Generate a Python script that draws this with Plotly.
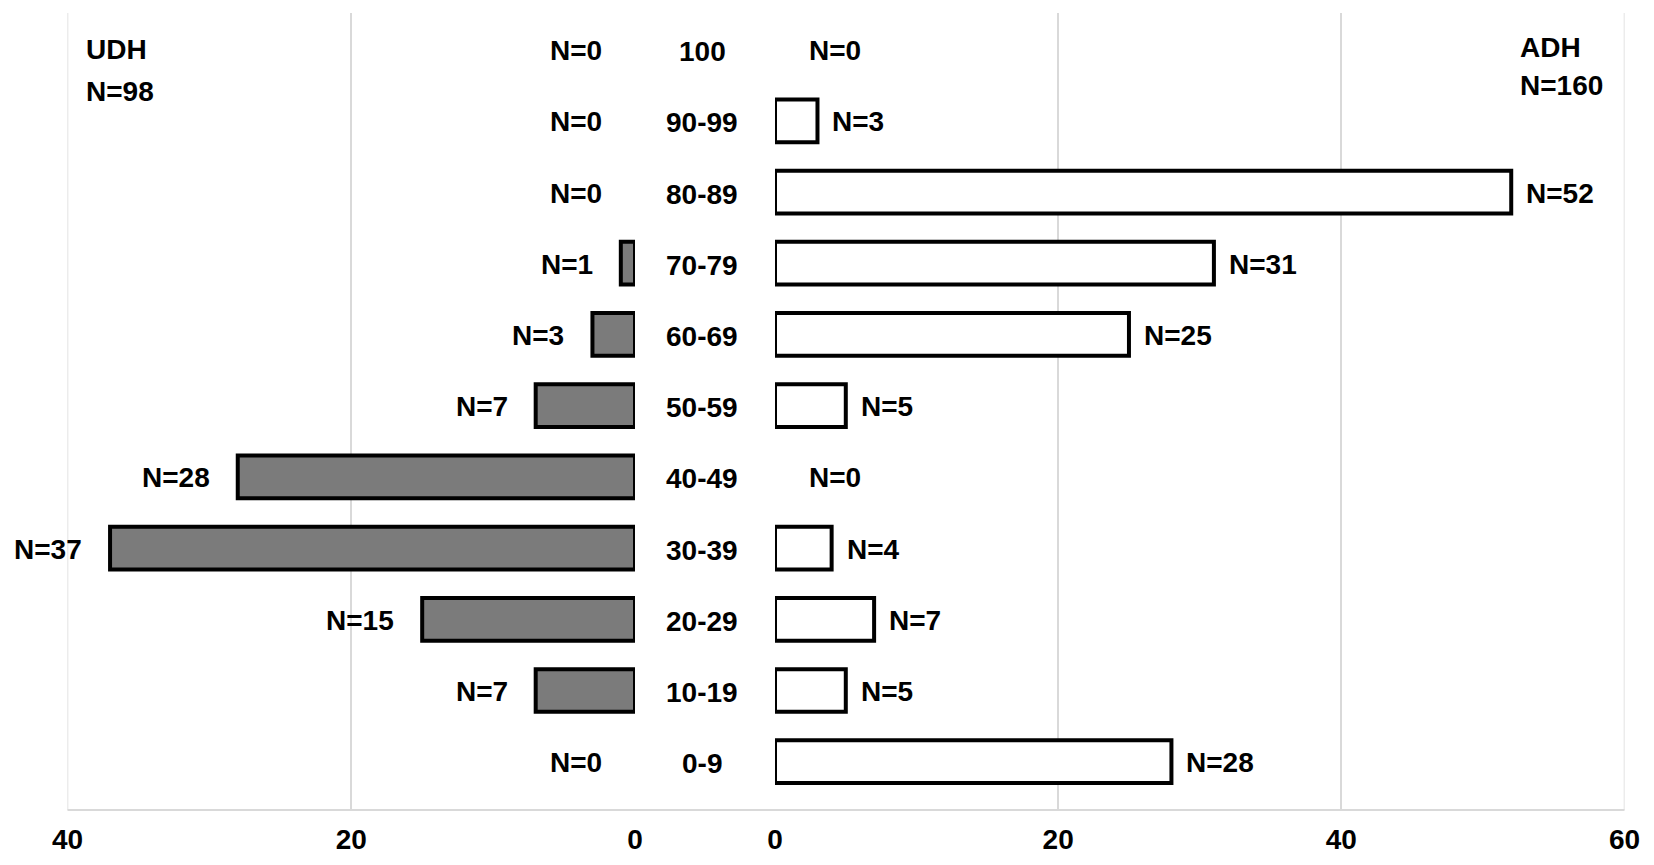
import plotly.graph_objects as go

categories = ["100", "90-99", "80-89", "70-79", "60-69", "50-59",
              "40-49", "30-39", "20-29", "10-19", "0-9"]
udh_counts = [0, 0, 0, 1, 3, 7, 28, 37, 15, 7, 0]
adh_counts = [0, 3, 52, 31, 25, 5, 0, 4, 7, 5, 28]
udh_title = ["UDH", "N=98"]
adh_title = ["ADH", "N=160"]
tick_vals_left = [0, 20, 40]
tick_vals_right = [0, 20, 40, 60]

W, H = 1654, 865
FONT = "Liberation Sans, Arial, sans-serif"
FS = 28
TFONT = dict(family=FONT, size=FS, color="black", weight="bold")

fig = go.Figure()

fig.add_trace(go.Bar(
    y=categories, x=udh_counts, orientation="h", xaxis="x", yaxis="y",
    width=0.6,
    marker=dict(color="#7b7b7b",
                line=dict(color="black", width=[4 if v > 0 else 0 for v in udh_counts])),
    showlegend=False, hoverinfo="skip",
))
fig.add_trace(go.Bar(
    y=categories, x=adh_counts, orientation="h", xaxis="x2", yaxis="y",
    width=0.6,
    marker=dict(color="white",
                line=dict(color="black", width=[4 if v > 0 else 0 for v in adh_counts])),
    showlegend=False, hoverinfo="skip",
))

annotations = []
for i, v in enumerate(udh_counts):
    annotations.append(dict(
        x=v, y=i, xref="x", yref="y", text=f"N={v}", showarrow=False,
        xanchor="right", yanchor="middle", xshift=-(31 if v == 0 else 26), yshift=-1,
        font=TFONT))
for i, v in enumerate(adh_counts):
    annotations.append(dict(
        x=v, y=i, xref="x2", yref="y", text=f"N={v}", showarrow=False,
        xanchor="left", yanchor="middle", xshift=(32 if v == 0 else 13), yshift=-1,
        font=TFONT))
for i, c in enumerate(categories):
    annotations.append(dict(
        x=702 / W, y=i, xref="paper", yref="y", text=c, showarrow=False,
        xanchor="center", yanchor="middle", yshift=-2,
        font=TFONT))
for txt, ypx in zip(udh_title, [50, 91]):
    annotations.append(dict(
        x=84 / W, y=1 - ypx / H, xref="paper", yref="paper", text=txt,
        showarrow=False, xanchor="left", yanchor="middle", align="left",
        font=TFONT))
for txt, ypx in zip(adh_title, [48, 85]):
    annotations.append(dict(
        x=1518 / W, y=1 - ypx / H, xref="paper", yref="paper", text=txt,
        showarrow=False, xanchor="left", yanchor="middle", align="left",
        font=TFONT))

y0 = 1 - 810 / H
y1 = 1 - 13 / H

axis_common = dict(
    showgrid=True, gridcolor="#d9d9d9", gridwidth=1.5,
    zeroline=False, showline=False, ticks="", automargin=False,
    ticklabelstandoff=10,
    tickfont=TFONT,
    fixedrange=True,
)

grid_edge = dict(color="#d9d9d9", width=1.5)
fig.update_layout(
    width=W, height=H,
    margin=dict(l=0, r=0, t=0, b=0),
    paper_bgcolor="white", plot_bgcolor="white",
    xaxis=dict(domain=[67.5 / W, 635 / W], range=[40, 0],
               tickvals=tick_vals_left, anchor="y", **axis_common),
    xaxis2=dict(domain=[775 / W, 1624.5 / W], range=[0, 60],
                tickvals=tick_vals_right, anchor="y", **axis_common),
    yaxis=dict(domain=[y0, y1], range=[10.678, -0.514], type="category",
               showticklabels=False, showgrid=False, zeroline=False,
               showline=False, ticks="", automargin=False, fixedrange=True),
    annotations=annotations,
    shapes=[
        dict(type="line", xref="x", yref="paper", x0=max(tick_vals_left), x1=max(tick_vals_left),
             y0=y0, y1=y1, line=grid_edge, layer="below"),
        dict(type="line", xref="x2", yref="paper", x0=max(tick_vals_right), x1=max(tick_vals_right),
             y0=y0, y1=y1, line=grid_edge, layer="below"),
        dict(type="line", xref="paper", yref="paper",
             x0=67.5 / W, x1=1624.5 / W, y0=y0, y1=y0,
             line=dict(color="#d9d9d9", width=2)),
    ],
    bargap=0.4,
)

fig.write_html("out.html", config={"displayModeBar": False},
               post_script="document.body.style.margin='0';document.body.style.overflow='hidden';")
